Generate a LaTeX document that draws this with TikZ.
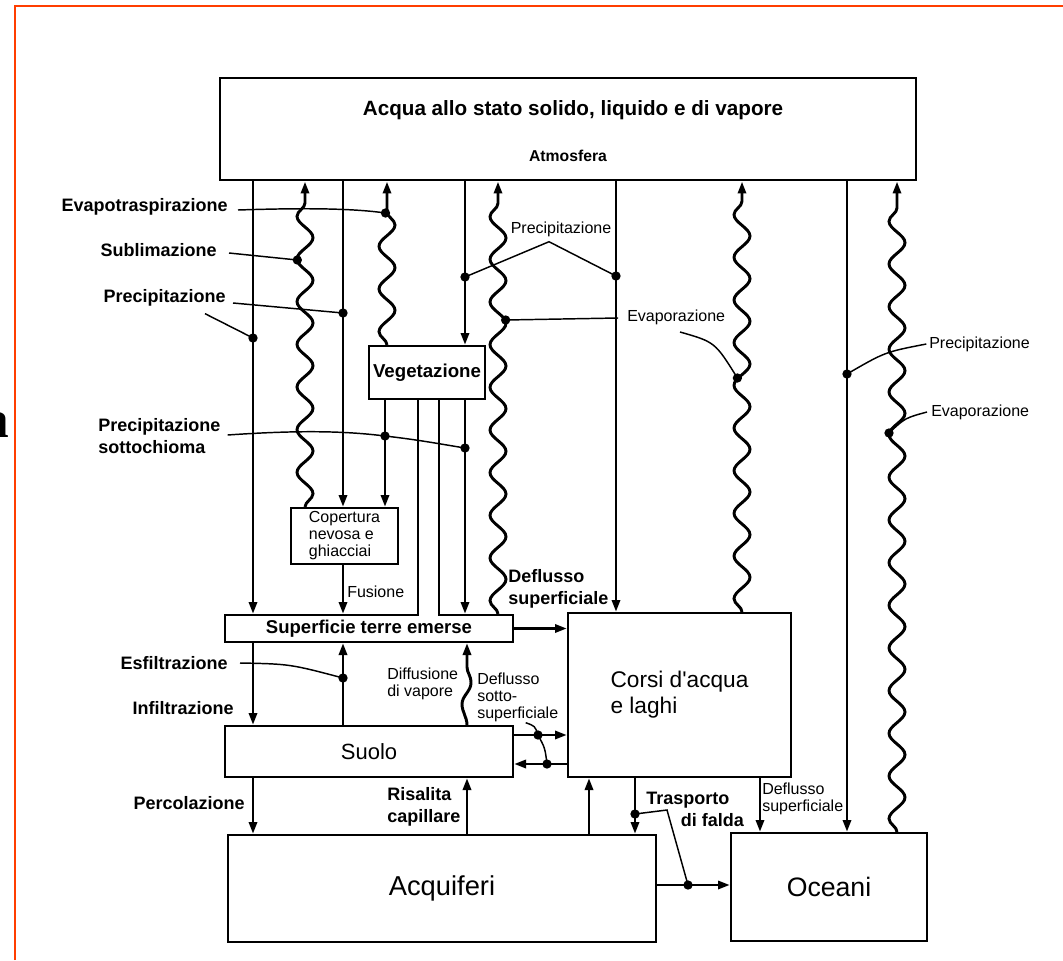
\documentclass[tikz,border=0pt]{standalone}
\usepackage{fontspec}
\setmainfont{Liberation Sans}
\newfontfamily\serifa{Liberation Serif}
\newfontfamily\nolig{Liberation Sans}[Ligatures=TeXOff]
\usetikzlibrary{arrows.meta,decorations.pathmorphing}
\definecolor{brd}{RGB}{255,61,0}
\begin{document}
\begin{tikzpicture}[x=0.75pt,y=-0.75pt,
 flow/.style={line width=2.2pt,-{Triangle[length=9pt,width=6pt]}},
 wave/.style={line width=2.2pt,-{Triangle[length=9pt,width=6pt]},decorate,
   decoration={snake,amplitude=6pt,segment length=32pt,post length=12pt}},
 box/.style={draw,line width=1.5pt,inner sep=0pt},
 lead/.style={line width=1.1pt},
 dot/.style={circle,fill,inner sep=0pt,minimum size=7pt},
 bl/.style={font=\fontsize{13.5}{16.5}\selectfont\bfseries,inner sep=0pt},
 sl/.style={font=\fontsize{12}{12.75}\selectfont,inner sep=0pt},
]
\useasboundingbox (0,0) rectangle (1063,960);
% frame
\draw[brd,line width=1.6pt] (15,960) -- (15,6) -- (1063,6);
\node[anchor=base east,inner sep=0pt,font=\serifa\fontsize{40}{40}\selectfont\bfseries] (frag) at (9,437) {a};

% boxes
\node[box,line width=2.2pt,minimum width=696*0.75pt,minimum height=102*0.75pt] (atm) at (568,129) {};
\node[inner sep=0pt,font=\fontsize{15.5}{18}\selectfont\bfseries] (tit) at (573,110) {Acqua allo stato solido, liquido e di vapore};
\node[inner sep=0pt,font=\fontsize{11.8}{14}\selectfont\bfseries] (atmt) at (568,156) {Atmosfera};
\node[box,minimum width=116*0.75pt,minimum height=53*0.75pt,font=\fontsize{14}{16}\selectfont\bfseries] (veg) at (427,372.5) {Vegetazione};
\node[box,minimum width=107*0.75pt,minimum height=56*0.75pt,align=left,font=\fontsize{12}{12.75}\selectfont] (cop) at (344.5,536) {Copertura\\nevosa e\\ghiacciai};
\node[box,minimum width=288*0.75pt,minimum height=27*0.75pt,font=\fontsize{13.9}{16}\selectfont\bfseries] (sup) at (369,628.5) {Superficie terre emerse};
\node[box,minimum width=288*0.75pt,minimum height=51*0.75pt,font=\fontsize{16.5}{19}\selectfont] (suo) at (369,751.5) {Suolo};
\node[box,minimum width=223*0.75pt,minimum height=164*0.75pt,align=left,font=\nolig\fontsize{17}{19.5}\selectfont] (cor) at (679.5,695) {Corsi d'acqua\\e laghi};
\node[box,minimum width=428*0.75pt,minimum height=107*0.75pt,font=\fontsize{20.5}{24}\selectfont] (acq) at (442,888.5) {Acquiferi};
\node[box,minimum width=196*0.75pt,minimum height=108*0.75pt,font=\fontsize{20}{24}\selectfont] (oce) at (829,887) {Oceani};

% column / row coordinates
\coordinate (cA) at (253,0);
\coordinate (cB) at (305,0);
\coordinate (cC) at (343,0);
\coordinate (cV) at (385,0);
\coordinate (cD) at (387,0);
\coordinate (cS1) at (418,0);
\coordinate (cS2) at (439,0);
\coordinate (cE) at (465,0);
\coordinate (cDf) at (467,0);
\coordinate (cR) at (467,0);
\coordinate (cF) at (498,0);
\coordinate (cAC) at (589,0);
\coordinate (cG) at (616,0);
\coordinate (cCA) at (635,0);
\coordinate (cH) at (742,0);
\coordinate (cCO) at (760,0);
\coordinate (cI) at (847,0);
\coordinate (cJ) at (897,0);
\coordinate (cy1) at (0,735);
\coordinate (cy2) at (0,764);
\coordinate (cy3) at (0,885);

% stem between Vegetazione and Superficie
\draw[line width=1pt] (veg.south -| cS1) -- (sup.north -| cS1);
\draw[line width=1pt] (veg.south -| cS2) -- (sup.north -| cS2);
\draw[white,line width=2.5pt,shorten <=0.6pt,shorten >=0.6pt] (sup.north -| cS1) -- (sup.north -| cS2);

% straight flows
\draw[flow] (atm.south -| cA) -- (sup.north -| cA);
\draw[flow] (sup.south -| cA) -- (suo.north -| cA);
\draw[flow] (suo.south -| cA) -- (acq.north -| cA);
\draw[flow] (atm.south -| cC) -- (cop.north -| cC);
\draw[flow] (cop.south -| cC) -- (sup.north -| cC);
\draw[flow] (suo.north -| cC) -- (sup.south -| cC);
\draw[flow] (atm.south -| cE) -- (veg.north -| cE);
\draw[flow] (veg.south -| cE) -- (sup.north -| cE);
\draw[flow] (veg.south -| cV) -- (cop.north -| cV);
\draw[flow] (atm.south -| cG) -- (cor.north -| cG);
\draw[flow] (atm.south -| cI) -- (oce.north -| cI);
\draw[flow] (sup.east) -- (cor.west |- sup.east);
\draw[flow] (suo.east |- cy1) -- (cor.west |- cy1);
\draw[flow] (cor.west |- cy2) -- (suo.east |- cy2);
\draw[flow] (acq.north -| cR) -- (suo.south -| cR);
\draw[flow] (acq.north -| cAC) -- (cor.south -| cAC);
\draw[flow] (cor.south -| cCA) -- (acq.north -| cCA);
\draw[flow] (cor.south -| cCO) -- (oce.north -| cCO);
\draw[flow] (acq.east |- cy3) -- (oce.west |- cy3);

% wavy flows (evaporation)
\draw[wave,decoration={amplitude=-6pt}] (cop.north -| cB) -- (atm.south -| cB);
\draw[wave] (veg.north -| cD) -- (atm.south -| cD);
\draw[wave] (sup.north -| cF) -- (atm.south -| cF);
\draw[wave] (cor.north -| cH) -- (atm.south -| cH);
\draw[wave] (oce.north -| cJ) -- (atm.south -| cJ);
\draw[flow] (suo.north -| cDf) .. controls +(0,-8) and +(0,8) .. ++(-5,-21)
   .. controls +(0,-8) and +(0,8) .. ++(9,-21)
   .. controls +(0,-8) and +(0,6) .. ++(-4,-16) -- (sup.south -| cDf);

% dots
\node[dot] (dEv) at ({387-8*sin((346-213-2.7)*8.3721)},213) {};
\node[dot] (dSu) at ({305+8*sin((508-260-2.7)*8.3721)},260) {};
\node[dot] (dEm) at ({498-8*sin((615-320-2.7)*8.3721)},320) {};
\node[dot] (dEh) at ({742-8*sin((613-378-2.7)*8.3721)},378) {};
\node[dot] (dEr) at ({897-8*sin((833-433-2.7)*8.3721)},433) {};
\node[dot] (dPl) at (343,313) {};
\node[dot] (dPa) at (253,338) {};
\node[dot] (dSc1) at (385,436) {};
\node[dot] (dSc2) at (465,448) {};
\node[dot] (dPm1) at (465,277) {};
\node[dot] (dPm2) at (616,276) {};
\node[dot] (dPr) at (847,374) {};
\node[dot] (dEs) at (343,678) {};
\node[dot] (dDs1) at (538,735) {};
\node[dot] (dDs2) at (547,764) {};
\node[dot] (dTr1) at (635,814) {};
\node[dot] (dTr2) at (688,885) {};
\coordinate (kTr) at (667,810);

% labels
\node[bl,anchor=east] (lEv) at (228,207) {Evapotraspirazione};
\node[bl,anchor=east] (lSu) at (217,250) {Sublimazione};
\node[bl,anchor=east] (lPr) at (226,298) {Precipitazione};
\node[bl,anchor=west,align=left] (lSc) at (98,436) {Precipitazione\\sottochioma};
\node[bl,anchor=east] (lEs) at (228,663) {Esfiltrazione};
\node[bl,anchor=east] (lIn) at (234,708) {Infiltrazione};
\node[bl,anchor=east] (lPe) at (245,803) {Percolazione};
\node[bl,anchor=west,align=left] (lRi) at (387,807) {Risalita\\capillare};
\node[bl,anchor=west,align=left] (lTr) at (646,809) {Trasporto\\\hspace*{26pt}di falda};
\node[bl,anchor=west,align=left] (lDf) at (508,589) {Deflusso\\superficiale};
\node[sl,anchor=west,align=left] (lDs) at (477,697) {Deflusso\\sotto-\\superficiale};
\node[sl,anchor=west,align=left] (lDi) at (387,684) {Diffusione\\di vapore};
\node[sl,anchor=west] (lFu) at (347,592) {Fusione};
\node[sl] (lPm) at (561,229) {Precipitazione};
\node[sl,anchor=west] (lEm) at (627,317) {Evaporazione};
\node[sl,anchor=west] (lPr2) at (929,344) {Precipitazione};
\node[sl,anchor=west] (lEr2) at (931,412) {Evaporazione};
\node[sl,anchor=west,align=left] (lDo) at (762,799) {Deflusso\\superficiale};

% leader lines
\draw[lead] ([shift={(10,3)}]lEv.east) .. controls (300,208) and (350,208) .. (dEv.center);
\draw[lead] ([shift={(12,3)}]lSu.east) -- (dSu.center);
\draw[lead] ([shift={(7,5)}]lPr.east) -- (dPl.center);
\draw[lead] ([shift={(-21,7)}]lPr.south east) -- (dPa.center);
\draw[lead] ([shift={(7,-1)}]lSc.east) .. controls (300,430) and (345,431) .. (dSc1.center)
   .. controls (420,440) and (440,444) .. (dSc2.center);
\draw[lead] (dPm1.center) -- ([shift={(-12,5)}]lPm.south) -- (dPm2.center);
\draw[lead] (dEm.center) -- ([shift={(-9,1)}]lEm.west);
\draw[lead] ([shift={(53,15)}]lEm.west) .. controls (715,342) .. (dEh.center);
\draw[lead] (dPr.center) .. controls (885,352) .. ([xshift=-2]lPr2.west);
\draw[lead] (dEr.center) .. controls (905,418) .. ([xshift=-3]lEr2.west);
\draw[lead] ([xshift=9]lEs.east) .. controls (290,664) .. (dEs.center);
\draw[lead] ([shift={(8,1)}]lDs.south) .. controls (535,726) .. (dDs1.center)
   .. controls (545,748) .. (dDs2.center);
\draw[lead] (dTr1.center) -- (kTr) -- (dTr2.center);
\end{tikzpicture}
\end{document}
